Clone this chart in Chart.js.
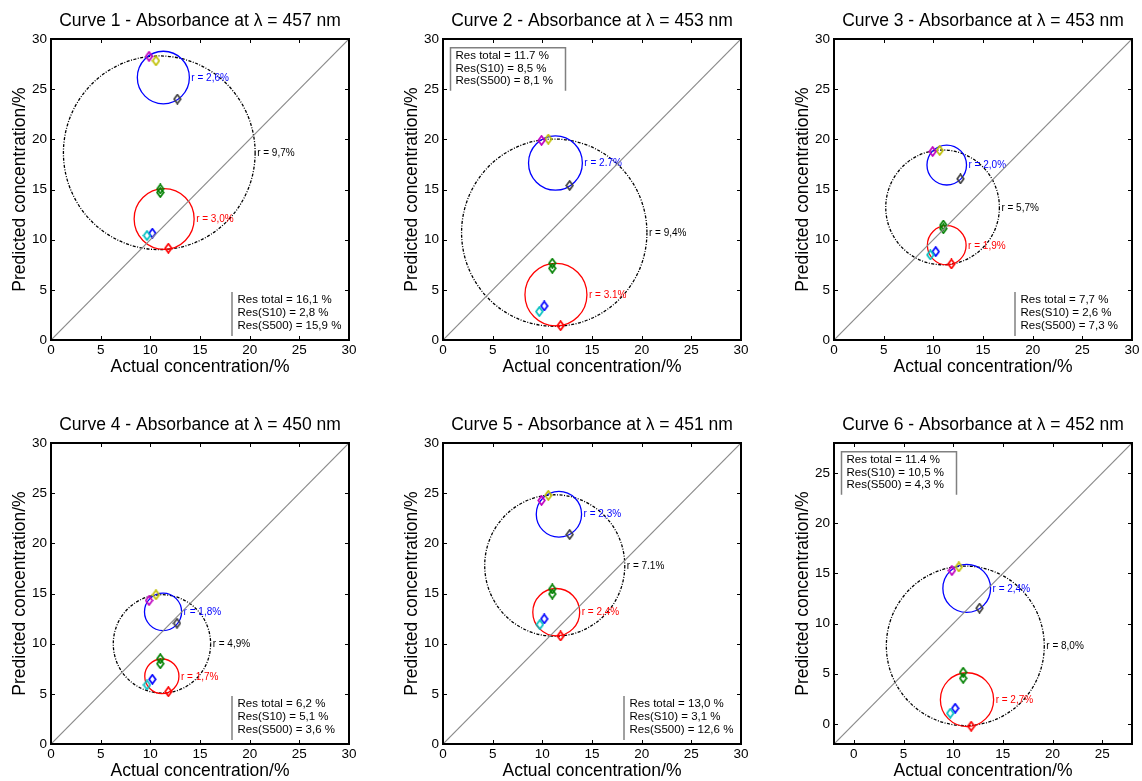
<!DOCTYPE html>
<html>
<head>
<meta charset="utf-8">
<script src="https://cdn.jsdelivr.net/npm/chart.js@4.4.1/dist/chart.umd.min.js"></script>
<style>
html,body{margin:0;padding:0;background:#fff;overflow:hidden;width:1142px;height:781px;position:relative;}
canvas{position:absolute;}
</style>
</head>
<body>
<canvas id="c0" width="361" height="380" style="left:0px;top:0px"></canvas>
<canvas id="c1" width="361" height="380" style="left:392px;top:0px"></canvas>
<canvas id="c2" width="361" height="380" style="left:783px;top:0px"></canvas>
<canvas id="c3" width="361" height="380" style="left:0px;top:404px"></canvas>
<canvas id="c4" width="361" height="380" style="left:392px;top:404px"></canvas>
<canvas id="c5" width="361" height="380" style="left:783px;top:404px"></canvas>
<script>
// ---------- DATA ----------
const titles = [
  'Curve 1 - Absorbance at \u03BB = 457 nm',
  'Curve 2 - Absorbance at \u03BB = 453 nm',
  'Curve 3 - Absorbance at \u03BB = 453 nm',
  'Curve 4 - Absorbance at \u03BB = 450 nm',
  'Curve 5 - Absorbance at \u03BB = 451 nm',
  'Curve 6 - Absorbance at \u03BB = 452 nm'
];
const axisMin = [0, 0, 0, 0, 0, -2];
const axisMax = [30, 30, 30, 30, 30, 28];
const tickValues = [
  [0, 5, 10, 15, 20, 25, 30],
  [0, 5, 10, 15, 20, 25, 30],
  [0, 5, 10, 15, 20, 25, 30],
  [0, 5, 10, 15, 20, 25, 30],
  [0, 5, 10, 15, 20, 25, 30],
  [0, 5, 10, 15, 20, 25]
];

// circles: centre and radius (data units)
const blackCx = [10.9, 11.2, 10.93, 11.17, 11.25, 11.22];
const blackCy = [18.66, 10.7, 13.22, 9.98, 17.79, 7.78];
const blackR  = [9.65, 9.33, 5.72, 4.9, 7.05, 7.95];
const blackLabel = ['r = 9,7%', 'r = 9,4%', 'r = 5,7%', 'r = 4,9%', 'r = 7.1%', 'r = 8,0%'];

const blueCx = [11.31, 11.32, 11.35, 11.28, 11.67, 11.36];
const blueCy = [26.16, 17.64, 17.44, 13.17, 22.9, 13.51];
const blueR  = [2.62, 2.71, 1.99, 1.87, 2.28, 2.4];
const blueLabel = ['r = 2,6%', 'r = 2.7%', 'r = 2,0%', 'r = 1,8%', 'r = 2,3%', 'r = 2,4%'];

const redCx = [11.39, 11.37, 11.35, 11.16, 11.4, 11.39];
const redCy = [12.06, 4.52, 9.44, 6.75, 13.14, 2.42];
const redR  = [3.02, 3.12, 1.95, 1.72, 2.36, 2.68];
const redLabel = ['r = 3,0%', 'r = 3.1%', 'r = 1,9%', 'r = 1,7%', 'r = 2,4%', 'r = 2,7%'];

// markers
const magentaX = [9.87, 9.92, 9.93, 9.87, 9.92, 9.87];
const magentaY = [28.27, 19.89, 18.79, 14.3, 24.28, 15.29];
const yellowX  = [10.57, 10.6, 10.64, 10.57, 10.6, 10.57];
const yellowY  = [27.83, 20.02, 18.89, 14.87, 24.78, 15.65];
const grayX    = [12.72, 12.75, 12.73, 12.68, 12.75, 12.65];
const grayY    = [24.01, 15.4, 16.06, 12.04, 20.88, 11.54];
const greenX   = [11.0, 11.0, 11.01, 11.0, 11.0, 11.0];
const greenYa  = [15.05, 7.65, 11.45, 8.5, 15.45, 5.15];
const greenYb  = [14.7, 7.15, 11.1, 8.0, 14.95, 4.55];
const cyanX    = [9.66, 9.69, 9.7, 9.66, 9.75, 9.7];
const cyanY    = [10.41, 2.83, 8.48, 5.89, 11.9, 1.06];
const blueX    = [10.2, 10.19, 10.24, 10.2, 10.19, 10.2];
const blueY    = [10.64, 3.39, 8.81, 6.45, 12.47, 1.56];
const redX     = [11.81, 11.84, 11.82, 11.81, 11.84, 11.81];
const redY     = [9.15, 1.43, 7.58, 5.22, 10.77, -0.23];

// legend texts
const resTotalText = ['Res total = 16,1 %', 'Res total = 11.7 %', 'Res total = 7,7 %', 'Res total = 6,2 %', 'Res total = 13,0 %', 'Res total = 11.4 %'];
const resS10Text   = ['Res(S10) = 2,8 %', 'Res(S10) = 8,5 %', 'Res(S10) = 2,6 %', 'Res(S10) = 5,1 %', 'Res(S10) = 3,1 %', 'Res(S10) = 10,5 %'];
const resS500Text  = ['Res(S500) = 15,9 %', 'Res(S500) = 8,1 %', 'Res(S500) = 7,3 %', 'Res(S500) = 3,6 %', 'Res(S500) = 12,6 %', 'Res(S500) = 4,3 %'];
const legendCorner = ['br', 'tl', 'br', 'br', 'br', 'tl'];

// ---------- STYLE ----------
const FONT = '"Liberation Sans", Arial, Helvetica, sans-serif';
Chart.defaults.font.family = FONT;
Chart.defaults.color = '#000';

const C_MAG = '#bf00bf', C_YEL = '#bfbf00', C_GRAY = '#404040', C_GRN = '#008000',
      C_CYAN = '#00bfbf', C_BLUE = '#0000ff', C_RED = '#ff0000';

// MATLAB-like open diamond marker image
function diamondImg(color) {
  const w = 9, h = 11;
  const c = document.createElement('canvas');
  c.width = w; c.height = h;
  const g = c.getContext('2d');
  g.strokeStyle = color; g.lineWidth = 1.7;
  g.beginPath();
  g.moveTo(w / 2, 1); g.lineTo(w - 1.2, h / 2); g.lineTo(w / 2, h - 1); g.lineTo(1.2, h / 2); g.closePath();
  g.stroke();
  return c;
}

const decor = {
  id: 'decor',
  beforeDatasetsDraw(chart, args, opts) {
    const i = opts.panel;
    const {ctx, chartArea: a, scales: {x, y}} = chart;
    ctx.save();
    ctx.beginPath(); ctx.rect(a.left, a.top, a.width, a.height); ctx.clip();
    const circles = [
      {cx: blackCx[i], cy: blackCy[i], r: blackR[i], color: '#000000', dash: [3, 1.5, 1, 1.5], label: blackLabel[i]},
      {cx: blueCx[i], cy: blueCy[i], r: blueR[i], color: C_BLUE, dash: [], label: blueLabel[i]},
      {cx: redCx[i], cy: redCy[i], r: redR[i], color: C_RED, dash: [], label: redLabel[i]}
    ];
    for (const c of circles) {
      const px = x.getPixelForValue(c.cx), py = y.getPixelForValue(c.cy);
      const rx = Math.abs(x.getPixelForValue(c.cx + c.r) - px);
      const ry = Math.abs(y.getPixelForValue(c.cy + c.r) - py);
      ctx.beginPath();
      ctx.setLineDash(c.dash);
      ctx.lineWidth = 1.3;
      ctx.strokeStyle = c.color;
      ctx.ellipse(px, py, rx, ry, 0, 0, Math.PI * 2);
      ctx.stroke();
      ctx.setLineDash([]);
      ctx.fillStyle = c.color;
      ctx.font = '10px ' + FONT;
      ctx.textAlign = 'left';
      ctx.textBaseline = 'middle';
      ctx.fillText(c.label, px + rx + 2, py + 0.5);
    }
    ctx.restore();
  },
  afterDraw(chart, args, opts) {
    const i = opts.panel;
    const {ctx, chartArea: a, scales: {x, y}} = chart;
    ctx.save();
    ctx.strokeStyle = '#000'; ctx.lineWidth = 1;
    const TL = 4;
    for (const t of x.ticks) {
      const p = Math.round(x.getPixelForValue(t.value)) + 0.5;
      ctx.beginPath();
      ctx.moveTo(p, a.bottom); ctx.lineTo(p, a.bottom - TL);
      ctx.moveTo(p, a.top); ctx.lineTo(p, a.top + TL);
      ctx.stroke();
    }
    for (const t of y.ticks) {
      const p = Math.round(y.getPixelForValue(t.value)) + 0.5;
      ctx.beginPath();
      ctx.moveTo(a.left, p); ctx.lineTo(a.left + TL, p);
      ctx.moveTo(a.right, p); ctx.lineTo(a.right - TL, p);
      ctx.stroke();
    }
    ctx.lineWidth = 2;
    ctx.strokeRect(a.left, a.top, a.width, a.height);
    const lines = [resTotalText[i], resS10Text[i], resS500Text[i]];
    ctx.font = '11.5px ' + FONT;
    ctx.textAlign = 'left';
    ctx.textBaseline = 'middle';
    ctx.strokeStyle = '#808080';
    ctx.lineWidth = 1.5;
    if (legendCorner[i] === 'br') {
      const lx = a.right - 117;
      ctx.beginPath(); ctx.moveTo(lx, a.bottom - 48); ctx.lineTo(lx, a.bottom - 4); ctx.stroke();
      ctx.fillStyle = '#000';
      lines.forEach((s, k) => ctx.fillText(s, lx + 5.5, a.bottom - 40 + k * 13));
    } else {
      const bx = a.left + 7.5, by = a.top + 8.7, bw = 115, bh = 43;
      ctx.fillStyle = '#fff';
      ctx.fillRect(bx, by, bw, bh);
      ctx.beginPath();
      ctx.moveTo(bx, by + bh); ctx.lineTo(bx, by); ctx.lineTo(bx + bw, by); ctx.lineTo(bx + bw, by + bh);
      ctx.stroke();
      ctx.fillStyle = '#000';
      lines.forEach((s, k) => ctx.fillText(s, bx + 5, by + 8 + k * 12.7));
    }
    ctx.restore();
  }
};

function markerSet(color, data) {
  return {
    type: 'scatter', data, showLine: false,
    pointStyle: diamondImg(color), pointRadius: 4,
    borderColor: color, backgroundColor: color
  };
}

for (let i = 0; i < 6; i++) {
  const ticksArr = tickValues[i];
  const datasets = [
    {
      type: 'line',
      data: [{x: axisMin[i], y: axisMin[i]}, {x: axisMax[i], y: axisMax[i]}],
      borderColor: '#8a8a8a', borderWidth: 1.2, pointRadius: 0, fill: false, tension: 0
    },
    markerSet(C_MAG, [{x: magentaX[i], y: magentaY[i]}]),
    markerSet(C_YEL, [{x: yellowX[i], y: yellowY[i]}]),
    markerSet(C_GRAY, [{x: grayX[i], y: grayY[i]}]),
    markerSet(C_GRN, [{x: greenX[i], y: greenYa[i]}, {x: greenX[i], y: greenYb[i]}]),
    markerSet(C_CYAN, [{x: cyanX[i], y: cyanY[i]}]),
    markerSet(C_BLUE, [{x: blueX[i], y: blueY[i]}]),
    markerSet(C_RED, [{x: redX[i], y: redY[i]}])
  ];
  const tickFont = {family: FONT, size: 13.5};
  const titleFont = {family: FONT, size: 17.5, weight: 'normal'};
  new Chart(document.getElementById('c' + i), {
    type: 'scatter',
    data: {datasets},
    plugins: [decor],
    options: {
      responsive: false,
      animation: false,
      devicePixelRatio: 1,
      layout: {padding: {left: 0, right: 12, top: 0, bottom: 0}},
      plugins: {
        legend: {display: false},
        tooltip: {enabled: false},
        title: {
          display: true, text: titles[i], color: '#000', fullSize: false,
          font: titleFont, padding: {top: 11, bottom: 7}
        },
        decor: {panel: i}
      },
      scales: {
        x: {
          type: 'linear', min: axisMin[i], max: axisMax[i],
          afterBuildTicks: s => { s.ticks = ticksArr.map(v => ({value: v})); },
          afterFit: s => { s.height = 40; },
          grid: {display: false, drawTicks: false},
          border: {display: false},
          ticks: {padding: 2, font: tickFont, color: '#000', autoSkip: false, maxRotation: 0},
          title: {display: true, text: 'Actual concentration/%', font: titleFont, color: '#000', padding: {top: 0, bottom: 2.8}}
        },
        y: {
          type: 'linear', min: axisMin[i], max: axisMax[i],
          afterBuildTicks: s => { s.ticks = ticksArr.map(v => ({value: v})); },
          afterFit: s => { s.width = 51; },
          grid: {display: false, drawTicks: false},
          border: {display: false},
          ticks: {padding: 4, font: tickFont, color: '#000', autoSkip: false},
          title: {display: true, text: 'Predicted concentration/%', font: titleFont, color: '#000', padding: {top: 9.5, bottom: 0}}
        }
      }
    }
  });
}
</script>
</body>
</html>
